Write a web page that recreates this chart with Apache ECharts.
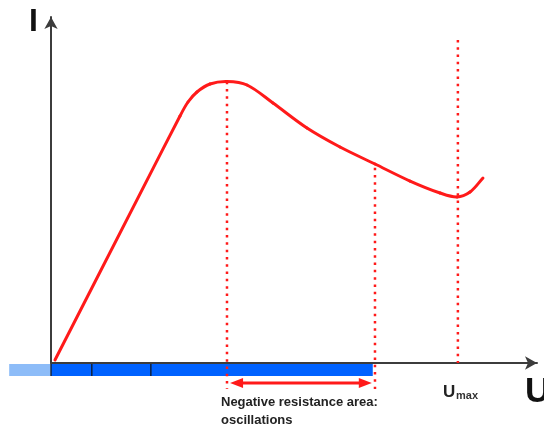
<!DOCTYPE html>
<html>
<head>
<meta charset="utf-8">
<script src="https://cdn.jsdelivr.net/npm/echarts@6/dist/echarts.min.js"></script>
<style>
html,body{margin:0;padding:0;background:#fff;}
#chart{width:544px;height:432px;}
</style>
</head>
<body>
<div id="chart"></div>
<script>
// I-U characteristic (arbitrary units)
const curveU = [0.081, 2.622, 2.785, 2.967, 3.232, 3.577, 3.984, 4.512, 5.203, 5.874, 6.585, 7.297, 7.907, 8.252, 8.516, 8.780];
const curveI = [0.085, 7.017, 7.415, 7.699, 7.926, 7.997, 7.898, 7.386, 6.676, 6.136, 5.653, 5.170, 4.830, 4.716, 4.858, 5.256];
// dotted markers: [U, I top, I bottom]
const peakMarker = [3.577, 7.99, -0.74];
const endMarker = [6.585, 5.55, -0.74];
const umaxMarker = [8.27, 9.18, 0];
// bar below the U axis
const lightBarRange = [-0.85, 0];
const darkBarRange = [0, 6.54];
const barIRange = [-0.03, -0.37];
const barDividers = [0, 0.83, 2.03];
// negative resistance arrow
const negArrowU = [3.64, 6.52];
const negArrowI = -0.57;
// texts
const labelI = 'I';
const labelU = 'U';
const labelUmaxMain = 'U';
const labelUmaxSub = 'max';
const noteLine1 = 'Negative resistance area:';
const noteLine2 = 'oscillations';

const RED = '#ff1a1a';
const FONT = '"Liberation Sans", Arial, sans-serif';
const dotted = {color: RED, width: 2.5, type: [2.5, 4.8], cap: 'butt'};

const chart = echarts.init(document.getElementById('chart'), null, {renderer: 'canvas'});

function vline(m) {
  return {
    type: 'line', clip: false, silent: true, symbol: 'none', z: 3,
    data: [[m[0], m[1]], [m[0], m[2]]],
    lineStyle: dotted
  };
}

// smooth curve through the data points (tangent-based cubic segments)
function renderCurve(params, api) {
  if (params.dataIndex !== 0) return null;
  const pts = curveU.map(function (u, i) { return api.coord([u, curveI[i]]); });
  const n = pts.length;
  function tangent(i) {
    const a = pts[Math.max(0, i - 1)], b = pts[Math.min(n - 1, i + 1)];
    const dx = b[0] - a[0], dy = b[1] - a[1];
    const len = Math.sqrt(dx * dx + dy * dy) || 1;
    return [dx / len, dy / len];
  }
  const children = [];
  for (let i = 0; i < n - 1; i++) {
    const p = pts[i], q = pts[i + 1];
    const d = Math.sqrt((q[0] - p[0]) * (q[0] - p[0]) + (q[1] - p[1]) * (q[1] - p[1])) / 3;
    const t0 = tangent(i), t1 = tangent(i + 1);
    children.push({
      type: 'bezierCurve',
      shape: {x1: p[0], y1: p[1], x2: q[0], y2: q[1],
        cpx1: p[0] + t0[0] * d, cpy1: p[1] + t0[1] * d,
        cpx2: q[0] - t1[0] * d, cpy2: q[1] - t1[1] * d},
      style: {stroke: RED, lineWidth: 3, fill: null, lineCap: 'round'}
    });
  }
  return {type: 'group', children: children};
}

const option = {
  animation: false,
  backgroundColor: '#fff',
  grid: {left: 51, right: 7, top: 17, bottom: 69},
  xAxis: {
    type: 'value', min: 0, max: 9.878,
    axisLine: {show: true, onZero: true, symbol: ['none', 'arrow'], symbolSize: [10, 12],
      lineStyle: {color: '#3c3c3c', width: 2}},
    axisTick: {show: false}, axisLabel: {show: false}, splitLine: {show: false}
  },
  yAxis: {
    type: 'value', min: 0, max: 9.83,
    axisLine: {show: true, symbol: ['none', 'arrow'], symbolSize: [10, 12],
      lineStyle: {color: '#3c3c3c', width: 2}},
    axisTick: {show: false}, axisLabel: {show: false}, splitLine: {show: false}
  },
  series: [
    {
      type: 'custom', clip: false, silent: true, z: 1,
      data: [[lightBarRange[0], lightBarRange[1], 0], [darkBarRange[0], darkBarRange[1], 1]],
      renderItem: function (params, api) {
        const p0 = api.coord([api.value(0), barIRange[0]]);
        const p1 = api.coord([api.value(1), barIRange[1]]);
        return {
          type: 'rect',
          shape: {x: p0[0], y: p0[1], width: p1[0] - p0[0], height: p1[1] - p0[1]},
          style: {fill: api.value(2) === 0 ? '#8dbcf8' : '#0062ff'}
        };
      }
    },
    {
      type: 'custom', clip: false, silent: true, z: 2,
      data: barDividers.map(function (u) { return [u]; }),
      renderItem: function (params, api) {
        const p0 = api.coord([api.value(0), barIRange[0]]);
        const p1 = api.coord([api.value(0), barIRange[1]]);
        return {
          type: 'line',
          shape: {x1: p0[0], y1: p0[1], x2: p1[0], y2: p1[1]},
          style: {stroke: '#111', lineWidth: 1.2}
        };
      }
    },
    vline(peakMarker),
    vline(endMarker),
    vline(umaxMarker),
    {
      type: 'custom', clip: false, silent: true, z: 6,
      data: [[negArrowU[0], negArrowU[1], negArrowI]],
      renderItem: function (params, api) {
        const a = api.coord([api.value(0), api.value(2)]);
        const b = api.coord([api.value(1), api.value(2)]);
        const L = 13, W = 5;
        return {
          type: 'group',
          children: [
            {type: 'line', shape: {x1: a[0] + L - 2, y1: a[1], x2: b[0] - L + 2, y2: b[1]},
              style: {stroke: RED, lineWidth: 3}},
            {type: 'polygon', shape: {points: [[a[0], a[1]], [a[0] + L, a[1] - W], [a[0] + L, a[1] + W]]},
              style: {fill: RED}},
            {type: 'polygon', shape: {points: [[b[0], b[1]], [b[0] - L, b[1] - W], [b[0] - L, b[1] + W]]},
              style: {fill: RED}}
          ]
        };
      }
    },
    {
      type: 'custom', clip: false, silent: true, z: 5,
      data: curveU.map(function (u, i) { return [u, curveI[i]]; }),
      renderItem: renderCurve
    }
  ],
  graphic: [
    {type: 'text', x: 29, y: 22, style: {text: labelI, font: 'bold 32px ' + FONT, fill: '#111', verticalAlign: 'middle'}},
    {type: 'text', x: 525, y: 392, style: {text: labelU, font: 'bold 35px ' + FONT, fill: '#111', verticalAlign: 'middle'}},
    {type: 'text', x: 443, y: 392, style: {text: labelUmaxMain, font: 'bold 17px ' + FONT, fill: '#222', verticalAlign: 'middle'}},
    {type: 'text', x: 456, y: 395.5, style: {text: labelUmaxSub, font: 'bold 11px ' + FONT, fill: '#333', verticalAlign: 'middle'}},
    {type: 'text', x: 221, y: 402, style: {text: noteLine1, font: 'bold 13px ' + FONT, fill: '#222', verticalAlign: 'middle'}},
    {type: 'text', x: 221, y: 420, style: {text: noteLine2, font: 'bold 13px ' + FONT, fill: '#222', verticalAlign: 'middle'}}
  ]
};
chart.setOption(option);
</script>
</body>
</html>
